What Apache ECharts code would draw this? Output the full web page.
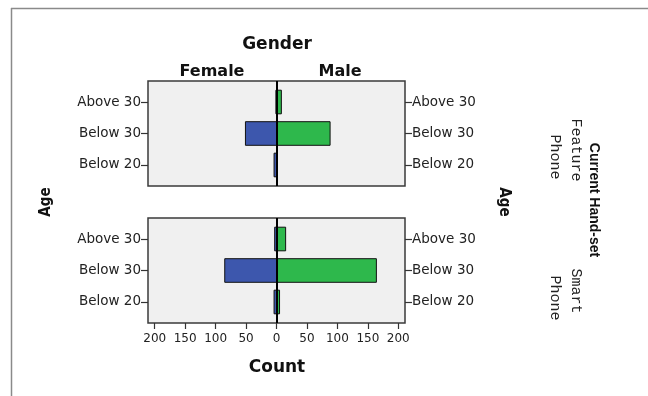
<!DOCTYPE html>
<html>
<head>
<meta charset="utf-8">
<script src="https://cdn.jsdelivr.net/npm/echarts@6/dist/echarts.min.js"></script>
<style>html,body{margin:0;padding:0;background:#fff;}#c{width:648px;height:396px;}</style>
</head>
<body>
<div id="c"></div>
<script>
const ageGroups = ['Above 30', 'Below 30', 'Below 20'];
const featureFemale = [1, 51, 4];
const featureMale = [8, 88, 0];
const smartFemale = [3, 85, 4];
const smartMale = [15, 164, 5];
const countTicks = [-200, -150, -100, -50, 0, 50, 100, 150, 200];
const ageTicks = [0, 1, 2];

const BLUE = '#3d57ad', GREEN = '#2eb84c';
const chart = echarts.init(document.getElementById('c'));

function toData(vals, sign) { return vals.map((v, i) => [sign * v, i]); }

function renderBar(color) {
  return function (params, api) {
    const v = api.value(0), c = api.value(1);
    const p0 = api.coord([0, c]);
    const p1 = api.coord([v, c]);
    const h = Math.abs(api.size([0, 1])[1]) * 0.75;
    return {
      type: 'rect',
      shape: { x: Math.min(p0[0], p1[0]), y: p0[1] - h / 2, width: Math.abs(p1[0] - p0[0]), height: h },
      style: { fill: color, stroke: '#111', lineWidth: 1 }
    };
  };
}

const centerLine = {
  silent: true, symbol: 'none', label: { show: false },
  lineStyle: { color: '#000', width: 2, type: 'solid' },
  data: [{ xAxis: 0 }]
};

function yAxes(gridIndex) {
  const base = {
    type: 'value', gridIndex, min: -0.667, max: 2.667, inverse: true,
    splitLine: { show: false },
    axisLine: { show: false, onZero: false },
    axisTick: { show: true, length: 7, lineStyle: { color: '#333', width: 1.2 }, customValues: ageTicks },
    axisLabel: {
      customValues: ageTicks, margin: 7, color: '#222',
      fontFamily: 'DejaVu Sans', fontSize: 13.5,
      formatter: v => ageGroups[Math.round(v)]
    }
  };
  return [
    Object.assign({}, base, { position: 'left' }),
    Object.assign({}, base, { position: 'right' })
  ];
}

const gridStyle = { show: true, backgroundColor: '#f0f0f0', borderColor: '#3a3a3a', borderWidth: 1.5 };

const option = {
  animation: false,
  grid: [
    Object.assign({ left: 148, top: 81, width: 257, height: 105 }, gridStyle),
    Object.assign({ left: 148, top: 218, width: 257, height: 105 }, gridStyle)
  ],
  xAxis: [
    { type: 'value', gridIndex: 0, min: -211, max: 211, splitLine: { show: false },
      axisLine: { show: false, onZero: false }, axisTick: { show: false }, axisLabel: { show: false } },
    { type: 'value', gridIndex: 1, min: -211, max: 211, splitLine: { show: false }, position: 'bottom',
      axisLine: { show: false, onZero: false },
      axisTick: { show: true, length: 6, lineStyle: { color: '#333', width: 1.2 }, customValues: countTicks },
      axisLabel: { customValues: countTicks, margin: 10, color: '#222', fontFamily: 'DejaVu Sans', fontSize: 12,
        formatter: v => String(Math.abs(v)) } }
  ],
  yAxis: yAxes(0).concat(yAxes(1)),
  series: [
    { type: 'custom', name: 'Female', xAxisIndex: 0, yAxisIndex: 0, data: toData(featureFemale, -1),
      encode: { x: 0, y: 1 }, renderItem: renderBar(BLUE) },
    { type: 'custom', name: 'Male', xAxisIndex: 0, yAxisIndex: 0, data: toData(featureMale, 1),
      encode: { x: 0, y: 1 }, renderItem: renderBar(GREEN), markLine: centerLine },
    { type: 'custom', name: 'Female', xAxisIndex: 1, yAxisIndex: 2, data: toData(smartFemale, -1),
      encode: { x: 0, y: 1 }, renderItem: renderBar(BLUE) },
    { type: 'custom', name: 'Male', xAxisIndex: 1, yAxisIndex: 2, data: toData(smartMale, 1),
      encode: { x: 0, y: 1 }, renderItem: renderBar(GREEN), markLine: centerLine }
  ],
  graphic: [
    { type: 'line', shape: { x1: 11, y1: 8.5, x2: 648, y2: 8.5 }, style: { stroke: '#8a8a8a', lineWidth: 1.5 }, silent: true },
    { type: 'line', shape: { x1: 11.5, y1: 8, x2: 11.5, y2: 396 }, style: { stroke: '#8a8a8a', lineWidth: 1.5 }, silent: true },
    { type: 'text', x: 277, y: 45, style: { text: 'Gender', font: 'bold 17px "DejaVu Sans"', fill: '#111', textAlign: 'center', textVerticalAlign: 'middle' } },
    { type: 'text', x: 212, y: 72, style: { text: 'Female', font: 'bold 16px "DejaVu Sans"', fill: '#111', textAlign: 'center', textVerticalAlign: 'middle' } },
    { type: 'text', x: 340, y: 72, style: { text: 'Male', font: 'bold 16px "DejaVu Sans"', fill: '#111', textAlign: 'center', textVerticalAlign: 'middle' } },
    { type: 'text', x: 277, y: 368, style: { text: 'Count', font: 'bold 17px "DejaVu Sans"', fill: '#111', textAlign: 'center', textVerticalAlign: 'middle' } },
    { type: 'text', x: 46, y: 202, rotation: Math.PI / 2, style: { text: 'Age', font: 'bold 15px "DejaVu Sans Condensed", sans-serif', fill: '#111', textAlign: 'center', textVerticalAlign: 'middle' } },
    { type: 'text', x: 504, y: 202, rotation: -Math.PI / 2, style: { text: 'Age', font: 'bold 15px "DejaVu Sans Condensed", sans-serif', fill: '#111', textAlign: 'center', textVerticalAlign: 'middle' } },
    { type: 'text', x: 594, y: 200, rotation: -Math.PI / 2, style: { text: 'Current Hand-set', font: 'bold 14px "Liberation Sans", sans-serif', fill: '#111', textAlign: 'center', textVerticalAlign: 'middle' } },
    { type: 'text', x: 576, y: 150, rotation: -Math.PI / 2, style: { text: 'Feature', font: '15px "Liberation Mono"', fill: '#222', textAlign: 'center', textVerticalAlign: 'middle' } },
    { type: 'text', x: 555, y: 157, rotation: -Math.PI / 2, style: { text: 'Phone', font: '15px "Liberation Mono"', fill: '#222', textAlign: 'center', textVerticalAlign: 'middle' } },
    { type: 'text', x: 576, y: 291, rotation: -Math.PI / 2, style: { text: 'Smart', font: '15px "Liberation Mono"', fill: '#222', textAlign: 'center', textVerticalAlign: 'middle' } },
    { type: 'text', x: 555, y: 298, rotation: -Math.PI / 2, style: { text: 'Phone', font: '15px "Liberation Mono"', fill: '#222', textAlign: 'center', textVerticalAlign: 'middle' } }
  ]
};
chart.setOption(option);
</script>
</body>
</html>
